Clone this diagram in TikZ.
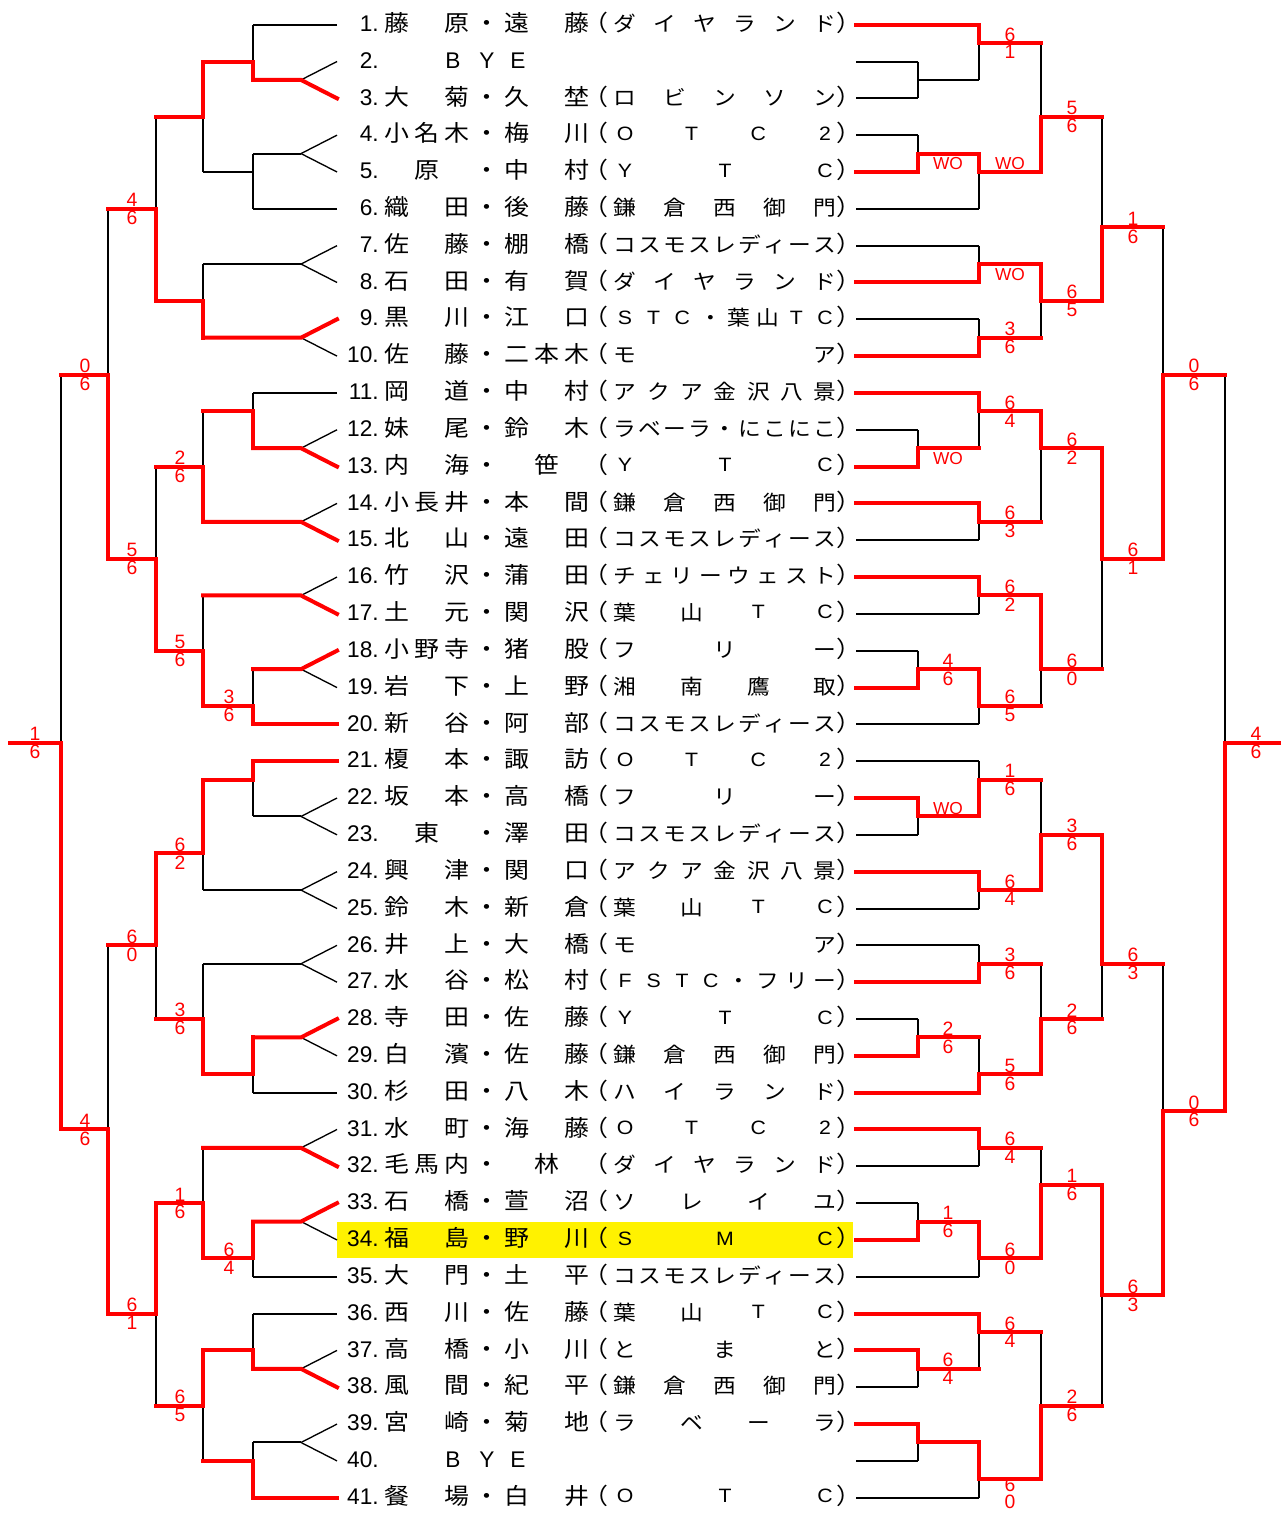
\documentclass[tikz,border=0pt]{standalone}
\usepackage{fontspec}
\setmainfont{Liberation Sans}
\newfontfamily\jp{Noto Sans CJK JP}

\pgfdeclarelayer{fg}
\pgfsetlayers{main,fg}

\newcommand\wid[1]{\scalebox{1.1}[1]{#1}}
\newcommand\lat[1]{\raisebox{1.2pt}{\fontsize{14.5pt}{14.5pt}\rmfamily #1}}

\tikzset{
  pln/.style={line width=1.5pt},
  thn/.style={line width=1pt},
  win/.style={red, line width=3pt, line cap=rect},
  chr/.style={inner sep=0pt, text height=14pt, text depth=1pt, yshift=1.5pt},
  nam/.style={chr, font=\jp\fontsize{17pt}{17pt}\selectfont},
  clb/.style={chr, font=\jp\fontsize{15.5pt}{15.5pt}\selectfont},
  num/.style={chr, anchor=east, font=\fontsize{17pt}{17pt}\selectfont},
  bye/.style={chr, font=\fontsize{17pt}{17pt}\selectfont},
  score/.style={red, inner sep=0pt, font=\fontsize{14.5pt}{14.5pt}\selectfont},
  wo/.style={red, inner sep=0pt, font=\fontsize{13pt}{13pt}\selectfont},
}

% one match: column, next column, top, bottom, out, winner (t/b/n)
\newcommand\bout[6]{%
  \coordinate (bt) at (#1,#3);
  \coordinate (bb) at (#1,#4);
  \coordinate (bo) at (#1,#5);
  \coordinate (bp) at (#2,#5);
  \draw[pln] (bt) -- (bb);
  \if#6n\draw[pln] (bo) -- (bp);\fi
  \begin{pgfonlayer}{fg}
    \if#6t\draw[win] (bt) -- (bo) -- (bp);\fi
    \if#6b\draw[win] (bb) -- (bo) -- (bp);\fi
  \end{pgfonlayer}}

% first round pair on the left: apex row, next column, winner
\newcommand\fork[3]{%
  \coordinate (ft) at (337,#1-1);
  \coordinate (fa) at (301,#1);
  \coordinate (fb) at (337,#1+1);
  \coordinate (fp) at (#2,#1);
  \draw[thn] (fa) -- (ft);
  \draw[thn] (fa) -- (fb);
  \if#3n\draw[pln] (fa) -- (fp);\fi
  \begin{pgfonlayer}{fg}
    \if#3t\draw[win] (ft) -- (fa) -- (fp);\fi
    \if#3b\draw[win] (fb) -- (fa) -- (fp);\fi
  \end{pgfonlayer}}

\begin{document}
\begin{tikzpicture}[x=0.75pt, y=-13.809pt]
\useasboundingbox (0,-1.341) rectangle (1280,80.83);

\fill[yellow] (337,65) rectangle (853,67);

% entries
\foreach \rw/\fn/\fam/\gn/\giv/\cn/\cl in {
  1/2/{藤,原}/2/{遠,藤}/6/{ダ,イ,ヤ,ラ,ン,ド},
  3/2/{大,菊}/2/{久,埜}/5/{ロ,ビ,ン,ソ,ン},
  4/3/{小,名,木}/2/{梅,川}/4/{\lat{O},\lat{T},\lat{C},\lat{2}},
  5/1/{原}/2/{中,村}/3/{\lat{Y},\lat{T},\lat{C}},
  6/2/{織,田}/2/{後,藤}/5/{鎌,倉,西,御,門},
  7/2/{佐,藤}/2/{棚,橋}/9/{コ,ス,モ,ス,レ,デ,ィ,ー,ス},
  8/2/{石,田}/2/{有,賀}/6/{ダ,イ,ヤ,ラ,ン,ド},
  9/2/{黒,川}/2/{江,口}/8/{\lat{S},\lat{T},\lat{C},・,葉,山,\lat{T},\lat{C}},
  10/2/{佐,藤}/3/{二,本,木}/2/{モ,ア},
  11/2/{岡,道}/2/{中,村}/7/{ア,ク,ア,金,沢,八,景},
  12/2/{妹,尾}/2/{鈴,木}/9/{ラ,ベ,ー,ラ,・,に,こ,に,こ},
  13/2/{内,海}/1/{笹}/3/{\lat{Y},\lat{T},\lat{C}},
  14/3/{小,長,井}/2/{本,間}/5/{鎌,倉,西,御,門},
  15/2/{北,山}/2/{遠,田}/9/{コ,ス,モ,ス,レ,デ,ィ,ー,ス},
  16/2/{竹,沢}/2/{蒲,田}/8/{チ,ェ,リ,ー,ウ,ェ,ス,ト},
  17/2/{土,元}/2/{関,沢}/4/{葉,山,\lat{T},\lat{C}},
  18/3/{小,野,寺}/2/{猪,股}/3/{フ,リ,ー},
  19/2/{岩,下}/2/{上,野}/4/{湘,南,鷹,取},
  20/2/{新,谷}/2/{阿,部}/9/{コ,ス,モ,ス,レ,デ,ィ,ー,ス},
  21/2/{榎,本}/2/{諏,訪}/4/{\lat{O},\lat{T},\lat{C},\lat{2}},
  22/2/{坂,本}/2/{高,橋}/3/{フ,リ,ー},
  23/1/{東}/2/{澤,田}/9/{コ,ス,モ,ス,レ,デ,ィ,ー,ス},
  24/2/{興,津}/2/{関,口}/7/{ア,ク,ア,金,沢,八,景},
  25/2/{鈴,木}/2/{新,倉}/4/{葉,山,\lat{T},\lat{C}},
  26/2/{井,上}/2/{大,橋}/2/{モ,ア},
  27/2/{水,谷}/2/{松,村}/8/{\lat{F},\lat{S},\lat{T},\lat{C},・,フ,リ,ー},
  28/2/{寺,田}/2/{佐,藤}/3/{\lat{Y},\lat{T},\lat{C}},
  29/2/{白,濱}/2/{佐,藤}/5/{鎌,倉,西,御,門},
  30/2/{杉,田}/2/{八,木}/5/{ハ,イ,ラ,ン,ド},
  31/2/{水,町}/2/{海,藤}/4/{\lat{O},\lat{T},\lat{C},\lat{2}},
  32/3/{毛,馬,内}/1/{林}/6/{ダ,イ,ヤ,ラ,ン,ド},
  33/2/{石,橋}/2/{萱,沼}/4/{ソ,レ,イ,ユ},
  34/2/{福,島}/2/{野,川}/3/{\lat{S},\lat{M},\lat{C}},
  35/2/{大,門}/2/{土,平}/9/{コ,ス,モ,ス,レ,デ,ィ,ー,ス},
  36/2/{西,川}/2/{佐,藤}/4/{葉,山,\lat{T},\lat{C}},
  37/2/{高,橋}/2/{小,川}/3/{と,ま,と},
  38/2/{風,間}/2/{紀,平}/5/{鎌,倉,西,御,門},
  39/2/{宮,崎}/2/{菊,地}/4/{ラ,ベ,ー,ラ},
  41/2/{餐,場}/2/{白,井}/3/{\lat{O},\lat{T},\lat{C}}}{
  \pgfmathtruncatemacro\k{2*(\rw-1)}
  \node[num] (n\rw) at (379,\k) {\rw.};
  \foreach \ch [count=\i] in \fam
    \node[nam] (f\rw-\i) at ({397+(\i-1)*60/max(\fn-1,1)+30*(\fn==1)},\k) {\wid{\ch}};
  \node[nam] (d\rw) at (487,\k) {\wid{・}};
  \foreach \ch [count=\i] in \giv
    \node[nam] (g\rw-\i) at ({517+(\i-1)*60/max(\gn-1,1)+30*(\gn==1)},\k) {\wid{\ch}};
  \node[nam] (po\rw) at (596,\k) {\wid{（}};
  \foreach \ch [count=\i] in \cl
    \node[clb] (c\rw-\i) at ({625+(\i-1)*200/(\cn-1)},\k) {\wid{\ch}};
  \node[nam] (pc\rw) at (849,\k) {\wid{）}};
}
\foreach \rw in {2,40}{
  \pgfmathtruncatemacro\k{2*(\rw-1)}
  \node[num] (n\rw) at (379,\k) {\rw.};
  \foreach \ch/\x [count=\i] in {B/453,Y/487,E/518}
    \node[bye] (y\rw-\i) at (\x,\k) {\ch};
}

% left side
\foreach \a/\p/\w in {3/253/b,7/253/n,13/203/n,17/203/t,23/253/b,27/203/b,
  31/203/b,35/253/t,43/253/n,47/203/n,51/203/n,55/253/t,61/203/b,65/253/t,
  73/253/b,77/253/n}
  \fork{\a}{\p}{\w};
\foreach \x/\p/\t/\b/\o/\w in {
  253/203/0/3/2/b, 253/203/7/10/8/n, 253/203/20/23/21/b, 253/203/35/38/37/b,
  253/203/40/43/41/t, 253/203/55/58/57/t, 253/203/65/68/67/t,
  253/203/70/73/72/b, 253/203/77/80/78/b,
  203/156/2/8/5/t, 203/156/13/17/15/b, 203/156/21/27/24/b, 203/156/31/37/34/b,
  203/156/41/47/45/t, 203/156/51/57/54/b, 203/156/61/67/64/b, 203/156/72/78/75/t,
  156/108/5/15/10/b, 156/108/24/34/29/b, 156/108/45/54/50/t, 156/108/64/75/70/t,
  108/61/10/29/19/b, 108/61/50/70/60/b,
  61/10/19/60/39/b}
  \bout{\x}{\p}{\t}{\b}{\o}{\w};

% right side
\foreach \x/\p/\t/\b/\o/\w in {
  918/979/2/4/3/n, 918/979/6/8/7/b, 918/979/22/24/23/b, 918/979/34/36/35/b,
  918/979/42/44/43/t, 918/979/54/56/55/b, 918/979/64/66/65/b,
  918/979/72/74/73/t, 918/979/76/78/77/t,
  979/1041/0/3/1/t, 979/1041/7/10/8/t, 979/1041/12/14/13/b, 979/1041/16/18/17/b,
  979/1041/20/23/21/t, 979/1041/26/28/27/t, 979/1041/30/32/31/t,
  979/1041/35/38/37/t, 979/1041/40/43/41/b, 979/1041/46/48/47/t,
  979/1041/50/52/51/b, 979/1041/55/58/57/b, 979/1041/60/62/61/t,
  979/1041/65/68/67/t, 979/1041/70/73/71/t, 979/1041/77/80/79/t,
  1041/1102/1/8/5/b, 1041/1102/13/17/15/t, 1041/1102/21/27/23/t,
  1041/1102/31/37/35/t, 1041/1102/41/47/44/b, 1041/1102/51/57/54/b,
  1041/1102/61/67/63/b, 1041/1102/71/79/75/b,
  1102/1163/5/15/11/b, 1102/1163/23/35/29/t, 1102/1163/44/54/51/t,
  1102/1163/63/75/69/t,
  1163/1225/11/29/19/b, 1163/1225/51/69/59/b,
  1225/1280/19/59/39/b}
  \bout{\x}{\p}{\t}{\b}{\o}{\w};

% entry lines
\begin{pgfonlayer}{fg}
\foreach \k/\s in {0/pln,10/pln,20/pln,38/win,40/win,58/pln,68/pln,70/pln,80/win}
  \draw[\s] (337,\k) -- (253,\k);
\foreach \k/\p/\s in {0/979/win,2/918/pln,4/918/pln,6/918/pln,8/918/win,
  10/979/pln,12/979/pln,14/979/win,16/979/pln,18/979/win,20/979/win,
  22/918/pln,24/918/win,26/979/win,28/979/pln,30/979/win,32/979/pln,
  34/918/pln,36/918/win,38/979/pln,40/979/pln,42/918/win,44/918/pln,
  46/979/win,48/979/pln,50/979/pln,52/979/win,54/918/pln,56/918/win,
  58/979/win,60/979/win,62/979/pln,64/918/pln,66/918/win,68/979/pln,
  70/979/win,72/918/win,74/918/pln,76/918/win,78/918/pln,80/979/pln}
  \draw[\s] (856,\k) -- (\p,\k);
\end{pgfonlayer}

% scores
\foreach \x/\k/\u/\v [count=\i] in {
  229/37/3/6, 229/67/6/4,
  180/24/2/6, 180/34/5/6, 180/45/6/2, 180/54/3/6, 180/64/1/6, 180/75/6/5,
  132/10/4/6, 132/29/5/6, 132/50/6/0, 132/70/6/1,
  85/19/0/6, 85/60/4/6, 35/39/1/6,
  948/35/4/6, 948/55/2/6, 948/65/1/6, 948/73/6/4,
  1010/1/6/1, 1010/17/3/6, 1010/21/6/4, 1010/27/6/3, 1010/31/6/2,
  1010/37/6/5, 1010/41/1/6, 1010/47/6/4, 1010/51/3/6, 1010/57/5/6,
  1010/61/6/4, 1010/67/6/0, 1010/71/6/4, 1010/79.75/6/0,
  1072/5/5/6, 1072/15/6/5, 1072/23/6/2, 1072/35/6/0, 1072/44/3/6,
  1072/54/2/6, 1072/63/1/6, 1072/75/2/6,
  1133/11/1/6, 1133/29/6/1, 1133/51/6/3, 1133/69/6/3,
  1194/19/0/6, 1194/59/0/6, 1256/39/4/6}{
  \node[score] (su\i) at (\x,\k-0.47) {\u};
  \node[score] (sv\i) at (\x,\k+0.5) {\v};
}
\foreach \x/\k [count=\i] in {948/7.55,1010/7.55,1010/13.55,948/23.55,948/42.55}
  \node[wo] (wo\i) at (\x,\k) {WO};

\end{tikzpicture}
\end{document}
